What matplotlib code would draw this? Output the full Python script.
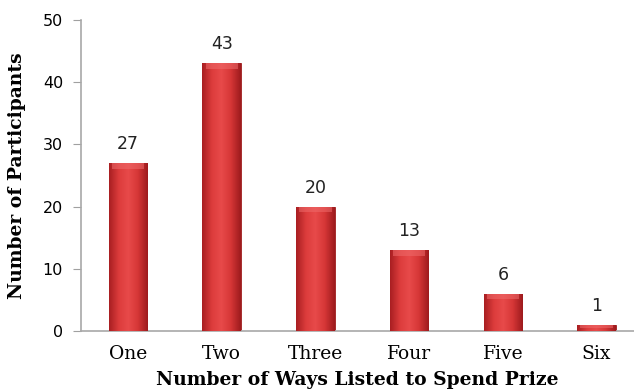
import numpy as np
import matplotlib.pyplot as plt
from matplotlib.colors import LinearSegmentedColormap

categories = ["One", "Two", "Three", "Four", "Five", "Six"]
participants = [27, 43, 20, 13, 6, 1]

fig = plt.figure(figsize=(6.34, 3.92), dpi=100)
ax = fig.add_axes([0.128, 0.155, 0.872, 0.795])

x = np.arange(len(categories))
width = 0.41
bars = ax.bar(x, participants, width=width, color="#d23434",
              edgecolor="#9c1d1d", linewidth=0.6, zorder=2)

# horizontal shading inside each bar for a rounded look
shade = LinearSegmentedColormap.from_list(
    "shade", ["#a91f22", "#dc3c3c", "#e84a4a", "#d53636", "#9e1b1e"])
grad = np.linspace(0, 1, 64).reshape(1, -1)
for b in bars:
    x0, y0 = b.get_x(), b.get_y()
    w, h = b.get_width(), b.get_height()
    im = ax.imshow(grad, cmap=shade, aspect="auto", zorder=3,
                   extent=[x0, x0 + w, y0, y0 + h])
    im.set_clip_path(b)
    # lighter bevel along the top
    cap = min(0.9, h * 0.5)
    ax.fill_between([x0 + w * 0.08, x0 + w * 0.92], y0 + h - cap, y0 + h,
                    color="#ee6a6a", alpha=0.55, linewidth=0, zorder=4)
    ax.text(x0 + w / 2, h + 1.6, f"{int(h)}", ha="center", va="bottom",
            fontsize=12.5, family="DejaVu Sans", color="#222222")

ax.set_xlim(-0.5, 5.4)
ax.set_ylim(0, 50)
ax.set_yticks([0, 10, 20, 30, 40, 50])
ax.set_xticks(x)
ax.set_xticklabels(categories, family="DejaVu Serif", fontsize=13.5)
for t in ax.get_yticklabels():
    t.set_fontsize(11.5)
ax.tick_params(axis="x", length=0, pad=10)
ax.tick_params(axis="y", length=6, color="#a0a0a0", pad=7)

for s in ["top", "right"]:
    ax.spines[s].set_visible(False)
for s in ["left", "bottom"]:
    ax.spines[s].set_color("#a8a8a8")
    ax.spines[s].set_linewidth(1.2)

ax.set_xlabel("Number of Ways Listed to Spend Prize", family="DejaVu Serif",
              fontweight="bold", fontsize=13.5, labelpad=6)
ax.set_ylabel("Number of Participants", family="DejaVu Serif",
              fontweight="bold", fontsize=13.5, labelpad=12)

fig.savefig("out.png", dpi=100)
